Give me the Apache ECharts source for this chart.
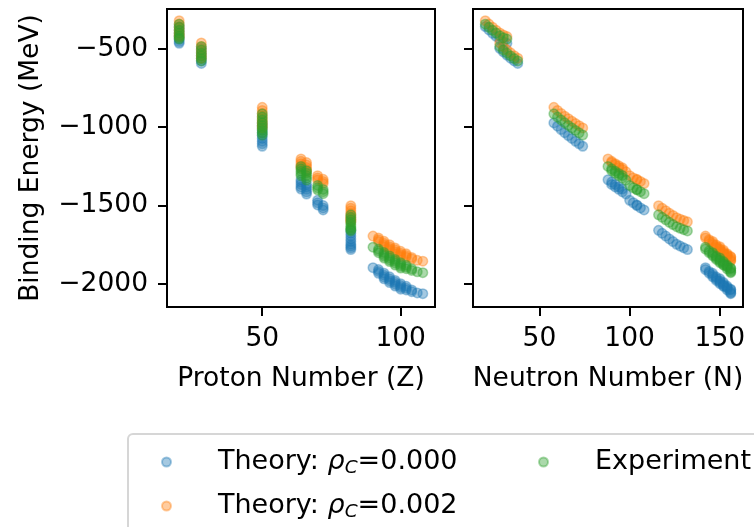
<!DOCTYPE html>
<html><head><meta charset="utf-8">
<script src="https://cdn.jsdelivr.net/npm/echarts@6/dist/echarts.min.js"></script>
<style>html,body{margin:0;padding:0;background:#fff}#c{width:754px;height:527px}</style>
</head><body><div id="c"></div>
<script>
// Proton number of each nucleus
const protonZ = [
  20,20,20,20,20,20,20,
  28,28,28,28,28,28,
  50,50,50,50,50,50,50,50,50,
  64,64,64,64,64, 66,66,66,66,66, 70,70,70, 72,72,72,
  82,82,82,82,82,82,82,82,82,
  90,92,92,92,94,94,94,94,96,96,96,96,98,98,98,98,100,100,100,100,102,102,102,104,104,106,108
];
// Neutron number of each nucleus
const neutronN = [
  20,22,24,26,28,30,32,
  28,30,32,34,36,38,
  58,60,62,64,66,68,70,72,74,
  88,90,92,94,96, 90,92,94,96,98, 100,102,104, 104,106,108,
  116,118,120,122,124,126,128,130,132,
  142,142,144,146,144,146,148,150,146,148,150,152,148,150,152,154,150,152,154,156,152,154,156,154,156,156,156
];
// Experiment binding energy (MeV)
const experimentBE = [
  -342,-362,-381,-399,-416,-428,-437,
  -484,-507,-527,-545,-562,-577,
  -915,-935,-954,-972,-989,-1005,-1021,-1036,-1050,
  -1251,-1266,-1281,-1296,-1309, -1278,-1294,-1309,-1324,-1338, -1372,-1387,-1400, -1398,-1412,-1425,
  -1560,-1576,-1592,-1608,-1622,-1636,-1646,-1655,-1663,
  -1767,-1779,-1790,-1802,-1801,-1814,-1825,-1836,-1823,-1836,-1848,-1859,-1845,-1857,-1869,-1881,-1866,-1878,-1889,-1900,-1882,-1893,-1904,-1905,-1915,-1924,-1930
];
// Theory rho_C = 0.000 (MeV)
const theory000 = [
  -357,-379,-400,-420,-439,-453,-464,
  -496,-519,-540,-559,-576,-593,
  -973,-994,-1015,-1035,-1054,-1072,-1090,-1106,-1122,
  -1336,-1351,-1366,-1382,-1395, -1366,-1382,-1397,-1413,-1427, -1467,-1483,-1497, -1501,-1516,-1529,
  -1659,-1678,-1696,-1714,-1731,-1748,-1760,-1771,-1782,
  -1898,-1910,-1922,-1934,-1933,-1946,-1958,-1969,-1956,-1969,-1981,-1993,-1979,-1991,-2003,-2015,-2000,-2012,-2024,-2035,-2017,-2029,-2040,-2040,-2051,-2059,-2064
];
// Theory rho_C = 0.002 (MeV)
const theory002 = [
  -320,-341,-361,-380,-398,-411,-421,
  -462,-485,-506,-525,-543,-559,
  -873,-893,-912,-930,-946,-962,-977,-991,-1005,
  -1203,-1218,-1233,-1247,-1260, -1226,-1242,-1257,-1271,-1285, -1310,-1324,-1337, -1333,-1347,-1360,
  -1502,-1518,-1534,-1550,-1564,-1578,-1588,-1597,-1605,
  -1696,-1708,-1719,-1730,-1729,-1742,-1753,-1764,-1751,-1764,-1776,-1786,-1772,-1784,-1796,-1808,-1793,-1805,-1816,-1827,-1809,-1820,-1831,-1832,-1842,-1851,-1856
];
const seriesNames = ['Theory: \u03c1C=0.000', 'Theory: \u03c1C=0.002', 'Experiment'];
const yTicks = [-2000, -1500, -1000, -500];
const zTicks = [50, 100];
const nTicks = [50, 100, 150];

const F = 'DejaVu Sans';
const FS = 26.5;
const colors = ['rgba(31,119,180,0.5)', 'rgba(255,127,14,0.5)', 'rgba(44,160,44,0.5)'];
const valueSets = [theory000, theory002, experimentBE];
const fmt = v => String(v).replace('-', '\u2212');

function xAxis(idx, min, max, ticks, name) {
  return {
    type: 'value', gridIndex: idx, min: min, max: max,
    name: name, nameLocation: 'middle', nameGap: 59,
    nameTextStyle: {fontFamily: F, fontSize: FS, color: '#000'},
    axisLine: {show: true, onZero: false, lineStyle: {color: '#000', width: 2}},
    axisTick: {show: true, length: 9, inside: false, lineStyle: {color: '#000', width: 2}, customValues: ticks},
    axisLabel: {show: true, margin: 19, fontFamily: F, fontSize: FS, color: '#000', formatter: fmt, customValues: ticks},
    splitLine: {show: false}
  };
}
function yAxis(idx, showLabel) {
  return {
    type: 'value', gridIndex: idx, min: -2149, max: -245,
    name: showLabel ? 'Binding Energy (MeV)' : '', nameLocation: 'middle', nameGap: 122,
    nameTextStyle: {fontFamily: F, fontSize: FS, color: '#000'},
    axisLine: {show: true, onZero: false, lineStyle: {color: '#000', width: 2}},
    axisTick: {show: true, length: 9, inside: false, lineStyle: {color: '#000', width: 2}, customValues: yTicks},
    axisLabel: {show: showLabel, margin: 19, fontFamily: F, fontSize: FS, color: '#000', formatter: fmt, customValues: yTicks},
    splitLine: {show: false}
  };
}

const series = [];
[0, 1].forEach(g => {
  const xs = g === 0 ? protonZ : neutronN;
  valueSets.forEach((vals, k) => {
    series.push({
      type: 'scatter', name: seriesNames[k], xAxisIndex: g, yAxisIndex: g,
      symbol: 'circle', symbolSize: 9.5,
      itemStyle: {color: colors[k], borderColor: colors[k], borderWidth: 1.5},
      emphasis: {disabled: true},
      data: xs.map((x, i) => [x, vals[i]])
    });
  });
});

const LFS = 27;
const legendText = {
  fontFamily: F, fontSize: LFS, color: '#000', lineHeight: 32, padding: [0, 0, 0, 42],
  rich: {
    r: {fontFamily: F, fontSize: LFS, fontStyle: 'italic', color: '#000'},
    s: {fontFamily: F, fontSize: 18.5, fontStyle: 'italic', color: '#000', padding: [12, 0, 0, 0]}
  }
};
const legendFmt = name => name.replace('\u03c1C', '{r|\u03c1}{s|C}');

const option = {
  animation: false,
  backgroundColor: '#fff',
  grid: [
    {left: 167, top: 9, width: 268, height: 298, show: true, borderColor: '#000', borderWidth: 2, containLabel: false},
    {left: 473, top: 9, width: 270, height: 298, show: true, borderColor: '#000', borderWidth: 2, containLabel: false}
  ],
  xAxis: [xAxis(0, 15.6, 112.4, zTicks, 'Proton Number (Z)'), xAxis(1, 13.2, 162.8, nTicks, 'Neutron Number (N)')],
  yAxis: [yAxis(0, true), yAxis(1, false)],
  graphic: [{type: 'rect', z: 1, shape: {x: 128, y: 434, width: 700, height: 140, r: 5},
             style: {fill: '#fff', stroke: '#d6d6d6', lineWidth: 2}}],
  legend: [
    {data: [seriesNames[0], seriesNames[1]], orient: 'vertical', left: 161, top: 446, z: 5,
     icon: 'circle', itemWidth: 9, itemHeight: 9, itemGap: 12, padding: 0,
     textStyle: legendText, formatter: legendFmt, selectedMode: false},
    {data: [seriesNames[2]], orient: 'vertical', left: 538, top: 446, z: 5,
     icon: 'circle', itemWidth: 9, itemHeight: 9, itemGap: 12, padding: 0,
     textStyle: legendText, formatter: legendFmt, selectedMode: false}
  ],
  series: series
};
const chart = echarts.init(document.getElementById('c'), null, {renderer: 'canvas'});
chart.setOption(option);
</script>
</body></html>
